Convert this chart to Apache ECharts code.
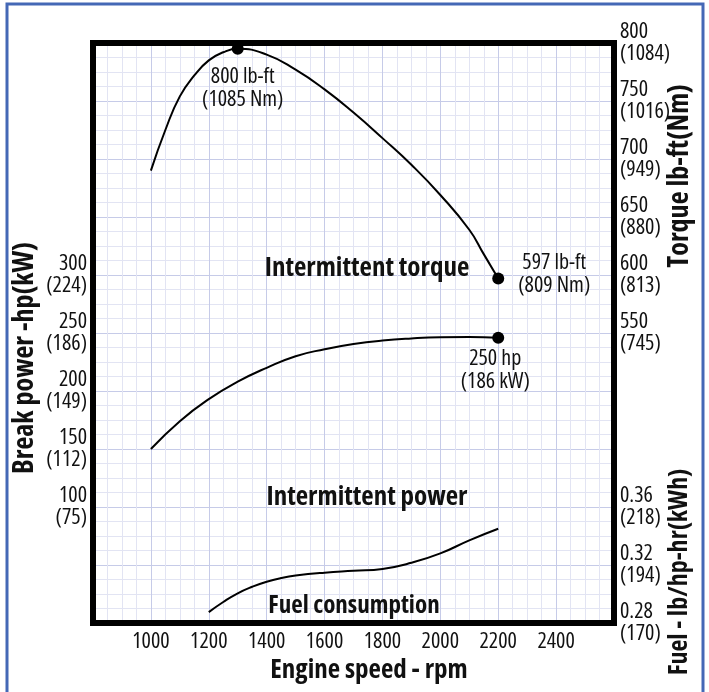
<!DOCTYPE html>
<html><head><meta charset="utf-8">
<script src="https://cdn.jsdelivr.net/npm/echarts@6/dist/echarts.min.js"></script>
<style>html,body{margin:0;padding:0;background:#fff}#c{width:709px;height:692px}</style>
</head><body><div id="c"></div>
<script>
// ---- data ----
const torqueRpm = [1000,1050,1100,1150,1200,1250,1300,1400,1500,1600,1700,1800,1900,2000,2100,2150,2200];
const torqueVal = [690,725,754,772,785,792,795,790,777,760,740,718,695,669,639,618,597];
const powerRpm = [1000,1100,1200,1300,1400,1500,1600,1700,1800,1900,2000,2100,2200];
const powerVal = [150,174,193,208,220,230,236,240.5,243.5,245.3,246.3,246.5,246];
const fuelRpm = [1200,1250,1300,1350,1400,1450,1500,1600,1700,1800,1900,2000,2100,2200];
const fuelVal = [0.2875,0.2945,0.3005,0.305,0.3085,0.311,0.3127,0.3147,0.316,0.3173,0.3215,0.328,0.337,0.345];
const xTickValues = [1000,1200,1400,1600,1800,2000,2200,2400];
const powerTickValues = [100,150,200,250,300];
const powerTickLabels = ['100\n(75)','150\n(112)','200\n(149)','250\n(186)','300\n(224)'];
const torqueTickValues = [550,600,650,700,750,800];
const torqueTickLabels = ['550\n(745)','600\n(813)','650\n(880)','700\n(949)','750\n(1016)','800\n(1084)'];
const fuelTickValues = [0.28,0.32,0.36];
const fuelTickLabels = ['0.28\n(170)','0.32\n(194)','0.36\n(218)'];
const torquePeak = [1300,795], torqueEnd = [2200,597], powerEnd = [2200,246];

function zip(a,b){return a.map((v,i)=>[v,b[i]]);}
function lookup(vals,labels){return v=>{const i=vals.findIndex(t=>Math.abs(t-v)<1e-6);return i<0?'':labels[i];};}

const FAM = "'Open Sans','Roboto Condensed',sans-serif";
const BOLD = "bold condensed ";
const minorC = '#e2e4f3', majorC = '#c6cbe8';
const labelStyle = {fontFamily: FAM, fontWeight:'condensed', fontSize: 22, color: '#111', lineHeight: 22};
const frameLine = {show:true, onZero:false, lineStyle:{color:'#000', width:6, cap:'square'}};
const hidden = {axisLabel:{show:false}, axisTick:{show:false}, splitLine:{show:false}};
const annLabel = {fontFamily: FAM, fontWeight:'condensed', fontSize:22, color:'#111', lineHeight:23, align:'center'};

const chart = echarts.init(document.getElementById('c'), null, {renderer:'canvas'});
chart.setOption({
  animation:false,
  grid:{left:93, right:95, top:43, bottom:69, containLabel:false, outerBoundsMode:'none'},
  xAxis:[
    {type:'value', min:800, max:2600, interval:200, position:'bottom',
     axisLine:{show:false, onZero:false}, axisTick:{show:false},
     axisLabel:Object.assign({margin:8, formatter:v=>xTickValues.indexOf(v)>=0?String(v):''}, labelStyle),
     splitLine:{show:true, lineStyle:{color:majorC, width:1}},
     minorTick:{show:false, splitNumber:4}, minorSplitLine:{show:true, lineStyle:{color:minorC, width:1}}},
    Object.assign({type:'value', min:800, max:2600, position:'top', z:10, axisLine:frameLine}, hidden),
    Object.assign({type:'value', min:800, max:2600, position:'bottom', z:10, axisLine:frameLine}, hidden)
  ],
  yAxis:[
    {type:'value', min:0, max:500, interval:50, position:'left',
     axisLine:{show:false, onZero:false}, axisTick:{show:false},
     axisLabel:Object.assign({margin:6, showMinLabel:true, showMaxLabel:true, formatter:lookup(powerTickValues,powerTickLabels)}, labelStyle),
     splitLine:{show:true, lineStyle:{color:majorC, width:1}},
     minorTick:{show:false, splitNumber:4}, minorSplitLine:{show:true, lineStyle:{color:minorC, width:1}}},
    {type:'value', min:300, max:800, interval:50, position:'right',
     axisLine:{show:false, onZero:false}, axisTick:{show:false}, splitLine:{show:false},
     axisLabel:Object.assign({margin:6, align:'left', showMinLabel:true, showMaxLabel:true, formatter:lookup(torqueTickValues,torqueTickLabels)}, labelStyle)},
    {type:'value', min:0.28, max:0.68, interval:0.04, position:'right',
     axisLine:{show:false, onZero:false}, axisTick:{show:false}, splitLine:{show:false},
     axisLabel:Object.assign({margin:6, align:'left', showMinLabel:true, showMaxLabel:true, formatter:lookup(fuelTickValues,fuelTickLabels)}, labelStyle)},
    Object.assign({type:'value', min:0, max:500, position:'left', z:10, axisLine:frameLine}, hidden),
    Object.assign({type:'value', min:0, max:500, position:'right', z:10, axisLine:frameLine}, hidden)
  ],
  series:[
    {type:'line', name:'torque', yAxisIndex:1, data:zip(torqueRpm,torqueVal), smooth:0.5, showSymbol:false, lineStyle:{color:'#000', width:2}, z:5},
    {type:'line', name:'power', yAxisIndex:0, data:zip(powerRpm,powerVal), smooth:0.5, showSymbol:false, lineStyle:{color:'#000', width:2}, z:5},
    {type:'line', name:'fuel', yAxisIndex:2, data:zip(fuelRpm,fuelVal), smooth:0.5, showSymbol:false, lineStyle:{color:'#000', width:2}, z:5},
    {type:'scatter', yAxisIndex:1, symbolSize:12, itemStyle:{color:'#000', opacity:1}, z:6,
     data:[
       {value:torquePeak, label:{show:true, position:'inside', offset:[5,39], formatter:'800 lb-ft\n(1085 Nm)'}},
       {value:torqueEnd, label:{show:true, position:'inside', offset:[56,-4], formatter:'597 lb-ft\n(809 Nm)'}}
     ],
     label:annLabel},
    {type:'scatter', yAxisIndex:0, symbolSize:12, itemStyle:{color:'#000', opacity:1}, z:6,
     data:[{value:powerEnd, label:{show:true, position:'inside', offset:[-3,33], formatter:'250 hp\n(186 kW)'}}],
     label:annLabel}
  ],
  graphic:[
    {type:'rect', shape:{x:7, y:4, width:696, height:740}, style:{fill:'none', stroke:'#4468b6', lineWidth:3}, z:100},
    {type:'text', x:367, y:268, style:{text:'Intermittent torque', font:BOLD+"27px "+FAM, fill:'#111', align:'center', verticalAlign:'middle'}, z:50},
    {type:'text', x:367, y:497, style:{text:'Intermittent power', font:BOLD+"27px "+FAM, fill:'#111', align:'center', verticalAlign:'middle'}, z:50},
    {type:'text', x:354, y:606, style:{text:'Fuel consumption', font:BOLD+"25px "+FAM, fill:'#111', align:'center', verticalAlign:'middle'}, z:50},
    {type:'text', x:369, y:670, style:{text:'Engine speed - rpm', font:BOLD+"27px "+FAM, fill:'#111', align:'center', verticalAlign:'middle'}, z:50},
    {type:'text', x:25, y:358, rotation:Math.PI/2, style:{text:'Break power -hp(kW)', font:BOLD+"28px "+FAM, fill:'#111', align:'center', verticalAlign:'middle'}, z:50},
    {type:'text', x:680, y:176, rotation:Math.PI/2, style:{text:'Torque lb-ft(Nm)', font:BOLD+"28px "+FAM, fill:'#111', align:'center', verticalAlign:'middle'}, z:50},
    {type:'text', x:680, y:572, rotation:Math.PI/2, style:{text:'Fuel - lb/hp-hr(kWh)', font:BOLD+"26px "+FAM, fill:'#111', align:'center', verticalAlign:'middle'}, z:50}
  ]
});
</script></body></html>
